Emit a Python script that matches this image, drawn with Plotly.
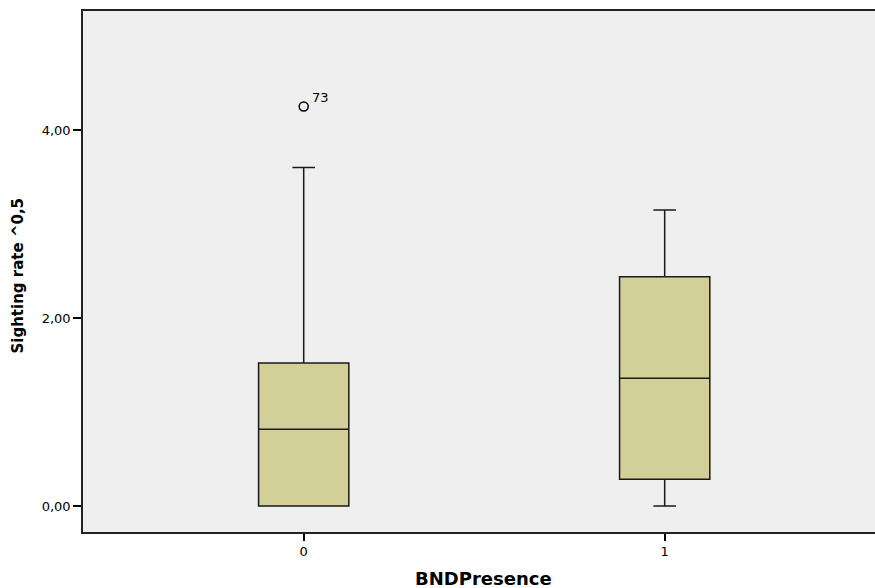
import plotly.graph_objects as go

# Data
categories = [0, 1]
cat_labels = ["0", "1"]
q1 = [0.0, 0.284]
median = [0.816, 1.36]
q3 = [1.52, 2.44]
lower_whisker = [0.0, 0.0]
upper_whisker = [3.60, 3.15]
outlier_x = [0]
outlier_y = [4.25]
outlier_labels = ["73"]
ytick_vals = [0, 2, 4]
ytick_text = ["0,00", "2,00", "4,00"]

FONT = "DejaVu Sans"

fig = go.Figure()
fig.add_trace(go.Box(
    x=categories,
    q1=q1, median=median, q3=q3,
    lowerfence=lower_whisker, upperfence=upper_whisker,
    width=0.25, whiskerwidth=0.25,
    fillcolor="#D3CF98",
    line=dict(color="#1a1a1a", width=1.5),
    boxpoints=False,
    showlegend=False,
    hoverinfo="skip",
))
fig.add_trace(go.Scatter(
    x=outlier_x, y=outlier_y, mode="markers",
    marker=dict(symbol="circle-open", size=9, color="black", line=dict(width=1.5)),
    showlegend=False, hoverinfo="skip",
))
for xv, yv, lab in zip(outlier_x, outlier_y, outlier_labels):
    fig.add_annotation(x=xv, y=yv, text=lab, showarrow=False,
                       xanchor="left", yanchor="bottom", xshift=6, yshift=0,
                       font=dict(family=FONT, size=13, color="black"))

# paper coords: plot area 792 x 521 px
fig.add_annotation(xref="paper", yref="paper", x=(484 - 83) / 792, y=-(578 - 532) / 521,
                   text="<b>BNDPresence</b>", showarrow=False,
                   xanchor="center", yanchor="middle",
                   font=dict(family=FONT, size=18, color="black"))
fig.add_annotation(xref="paper", yref="paper", x=-(83 - 17) / 792, y=(532 - 275.5) / 521,
                   text="<b>Sighting rate ^0,5</b>", showarrow=False, textangle=-90,
                   xanchor="center", yanchor="middle",
                   font=dict(family=FONT, size=15, color="black"))

fig.update_layout(
    width=875, height=588,
    margin=dict(l=83, r=0, t=11, b=56),
    paper_bgcolor="white", plot_bgcolor="#EFEFEF",
    font=dict(family=FONT, color="black"),
    xaxis=dict(range=[-0.6114, 1.5826], tickvals=categories, ticktext=cat_labels,
               showgrid=False, zeroline=False, showline=True, linecolor="#222",
               linewidth=1.5, mirror=True, ticks="outside", ticklen=7, tickwidth=2,
               tickcolor="black", tickfont=dict(family=FONT, size=13)),
    yaxis=dict(range=[-0.2766, 5.266], tickvals=ytick_vals, ticktext=ytick_text,
               showgrid=False, zeroline=False, showline=True, linecolor="#222",
               linewidth=1.5, ticks="outside", ticklen=8, tickwidth=2,
               tickcolor="black", tickfont=dict(family=FONT, size=13)),
)
fig.write_html("out.html",
               config={"displayModeBar": False},
               post_script="document.body.style.margin='0';document.body.style.overflow='hidden';")
